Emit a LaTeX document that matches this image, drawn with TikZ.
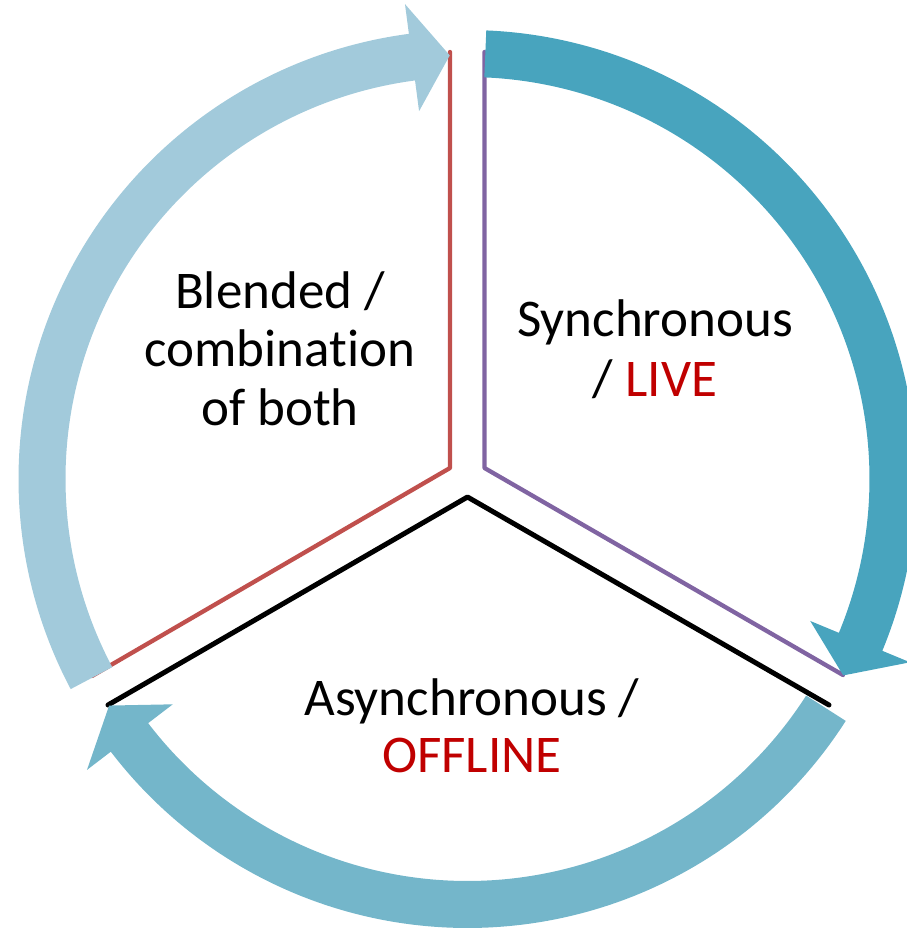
\documentclass[tikz,border=0pt]{standalone}
\usepackage{fontspec}
\setmainfont{Carlito}[Ligatures=NoCommon]
\definecolor{arrlight}{HTML}{A2CADB}
\definecolor{arrdark}{HTML}{48A4BE}
\definecolor{arrmid}{HTML}{74B6CA}
\definecolor{secred}{HTML}{C0504D}
\definecolor{secpurple}{HTML}{8064A2}
\definecolor{livered}{HTML}{C00000}
\newcommand\cyclearrow[4]{%
  \fill[#1, shift={(0,-3)}] (#2:449) arc[start angle=#2, end angle=#3, radius=449]
    -- (#3:479) -- (#4:424) -- (#3:371) -- (#3:402)
    arc[start angle=#3, end angle=#2, radius=402] -- cycle;}
\begin{document}
\begin{tikzpicture}[x=1pt,y=1pt,
  lbl/.style={font=\fontsize{53}{58}\selectfont, inner sep=0pt, anchor=base},
  sector/.style={line width=4.3pt, line join=round, line cap=round}]
\useasboundingbox (-467.5,-453) rectangle (438.5,476);
% sector outlines
\coordinate (rtop) at (-17.5,424);
\coordinate (rmid) at (-17.5,8);
\coordinate (rend) at (-375.5,-200);
\coordinate (ptop) at (17,424);
\coordinate (pmid) at (17,8);
\coordinate (pend) at (375.5,-199);
\coordinate (bleft) at (-359.5,-229);
\coordinate (bmid) at (0,-21);
\coordinate (bright) at (361.5,-229);
\draw[sector, secred] (rtop) -- (rmid) -- (rend);
\draw[sector, secpurple] (ptop) -- (pmid) -- (pend);
\draw[sector, black, line width=5pt] (bleft) -- (bmid) -- (bright);
% circular arrows
\cyclearrow{arrlight}{207.9}{97.5}{92.4}
\cyclearrow{arrdark}{87.6}{-22.5}{-27.6}
\cyclearrow{arrmid}{-32.6}{-142.6}{-147.7}
% labels
\node[lbl] (bl1) at (-187.5,167) {Blended /};
\node[lbl] (bl2) at (-187.5,109) {combination};
\node[lbl] (bl3) at (-187.5,51) {of both};
\node[lbl] (sy1) at (187.5,139) {Synchronous};
\node[lbl] (sy2) at (187.5,80) {/ \textcolor{livered}{LIVE}};
\node[lbl] (as1) at (4.5,-239) {Asynchronous /};
\node[lbl, text=livered] (as2) at (4.5,-296) {OFFLINE};
\end{tikzpicture}
\end{document}
